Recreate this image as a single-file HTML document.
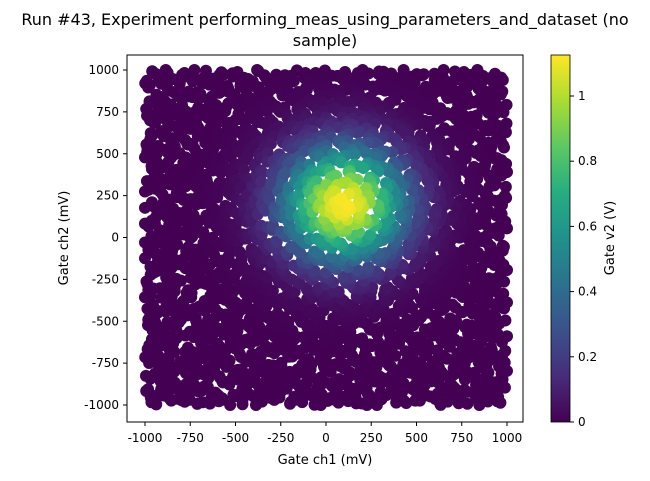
<!DOCTYPE html>
<html><head><meta charset="utf-8"><style>
body{margin:0;background:#fff;}
svg{font-family:"DejaVu Sans","Liberation Sans",sans-serif;}
</style></head><body>
<svg id="c" width="650" height="476" viewBox="0 0 650 476">
<text x="325" y="25" text-anchor="middle" font-size="16">Run #43, Experiment performing_meas_using_parameters_and_dataset (no</text>
<text x="325" y="46" text-anchor="middle" font-size="16">sample)</text>
<defs><clipPath id="clip"><rect x="127" y="55" width="396" height="367"/></clipPath>
<linearGradient id="vir" x1="0" y1="1" x2="0" y2="0">
<stop offset="0" stop-color="#440154"/><stop offset="0.125" stop-color="#472c7a"/><stop offset="0.25" stop-color="#3b518b"/><stop offset="0.375" stop-color="#2c718e"/><stop offset="0.5" stop-color="#21908d"/><stop offset="0.625" stop-color="#27ad81"/><stop offset="0.75" stop-color="#5cc863"/><stop offset="0.875" stop-color="#aadc32"/><stop offset="1" stop-color="#fde725"/></linearGradient></defs>
<g id="pts" clip-path="url(#clip)"></g>
<rect x="127" y="55" width="396" height="367" fill="none" stroke="#000" stroke-width="1"/>
<g id="axes"></g>
<text x="325" y="464" text-anchor="middle" font-size="13">Gate ch1 (mV)</text>
<text transform="translate(68,238) rotate(-90)" text-anchor="middle" font-size="13">Gate ch2 (mV)</text>
<rect x="551" y="55" width="19" height="367" fill="url(#vir)" stroke="#000" stroke-width="0.8"/>
<text transform="translate(614,238) rotate(-90)" text-anchor="middle" font-size="13">Gate v2 (V)</text>
</svg>
<script>
const xTicks=[-1000,-750,-500,-250,0,250,500,750,1000];
const yTicks=[-1000,-750,-500,-250,0,250,500,750,1000];
const cTicks=[0,0.2,0.4,0.6,0.8,1];
const peak=[1.13];
const center=[100,200];
const sigma=[230];
const nPoints=[2700];
const NS="http://www.w3.org/2000/svg";
const xs=v=>326+v*0.181, ys=v=>237.5-v*0.1675, cs=v=>422-v*326;
const vir=["#440154","#472c7a","#3b518b","#2c718e","#21908d","#27ad81","#5cc863","#aadc32","#fde725"];
function hex(h){return [1,3,5].map(i=>parseInt(h.substr(i,2),16));}
function col(t){t=Math.max(0,Math.min(1,t))*(vir.length-1);const i=Math.min(vir.length-2,Math.floor(t)),f=t-i;const a=hex(vir[i]),b=hex(vir[i+1]);return `rgb(${a.map((v,k)=>Math.round(v+(b[k]-v)*f)).join(',')})`;}
function halton(i,b){let f=1,r=0;while(i>0){f/=b;r+=f*(i%b);i=Math.floor(i/b);}return r;}
const g=document.getElementById('pts');
for(let i=1;i<=nPoints[0];i++){
  let x=-1000+2000*halton(i,2)+40*(halton(i,5)-0.5), y=-1000+2000*halton(i,3)+40*(halton(i,7)-0.5);
  x=Math.max(-1000,Math.min(1000,x));y=Math.max(-1000,Math.min(1000,y));
  const v=peak[0]*Math.exp(-((x-center[0])**2+(y-center[1])**2)/(2*sigma[0]**2));
  const c=document.createElementNS(NS,'circle');
  
  
  c.setAttribute('cx',xs(x));c.setAttribute('cy',ys(y));c.setAttribute('r',6);
  c.setAttribute('fill',col(v/peak[0]));
  c.dataset.v=v;g.appendChild(c);
}
[...g.children].sort((a,b)=>a.dataset.v-b.dataset.v).forEach(c=>g.appendChild(c));
const ax=document.getElementById('axes');
function add(tag,attrs,txt){const e=document.createElementNS(NS,tag);for(const k in attrs)e.setAttribute(k,attrs[k]);if(txt!==undefined)e.textContent=txt;ax.appendChild(e);return e;}
xTicks.forEach(t=>{const x=xs(t);
 const l=add('line',{x1:x,x2:x,y1:422,y2:426,stroke:'#000'});
 const s=add('text',{x:x,y:442,'text-anchor':'middle','font-size':12},String(t));});
yTicks.forEach(t=>{const y=ys(t);
 const l=add('line',{x1:123,x2:127,y1:y,y2:y,stroke:'#000'});
 const s=add('text',{x:119,y:y+4,'text-anchor':'end','font-size':12},String(t));});
cTicks.forEach(t=>{const y=cs(t);
 const l=add('line',{x1:570,x2:574,y1:y,y2:y,stroke:'#000'});
 const s=add('text',{x:578,y:y+4,'font-size':12},String(t));});
</script>
</body></html>
